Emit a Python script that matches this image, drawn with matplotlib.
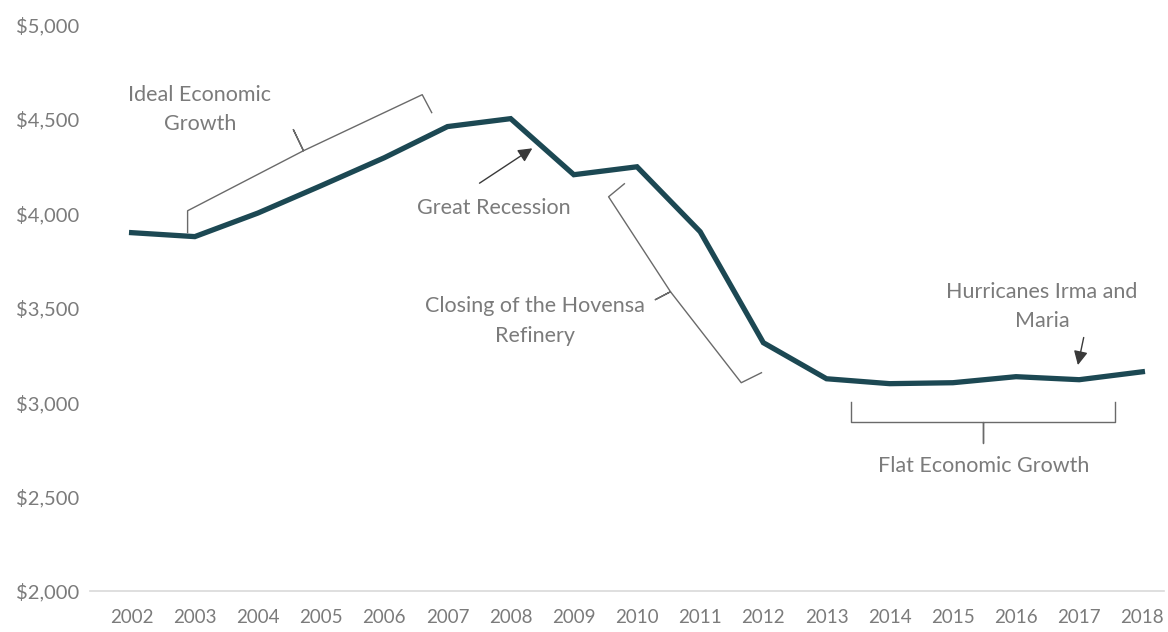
import matplotlib.pyplot as plt
from matplotlib.ticker import FuncFormatter

plt.rcParams['font.family'] = ['Lato', 'DejaVu Sans']

years = list(range(2002, 2019))
income = [3898, 3877, 4002, 4147, 4295, 4460, 4502, 4205, 4247,
          3903, 3315, 3124, 3098, 3103, 3135, 3119, 3161]
y_ticks = [2000, 2500, 3000, 3500, 4000, 4500, 5000]

line_color = '#1c4853'
text_color = '#7b7b7b'
bracket_color = '#6a6a6a'

fig = plt.figure(figsize=(11.68, 6.32), dpi=100)
ax = fig.add_axes([0.077, 0.065, 0.920, 0.896])

ax.plot(years, income, color=line_color, linewidth=3.8, solid_joinstyle='miter')

ax.set_xlim(2001.34, 2018.35)
ax.set_ylim(2000, 5000)
ax.set_xticks(years)
ax.set_yticks(y_ticks)
ax.yaxis.set_major_formatter(FuncFormatter(lambda v, p: f'${v:,.0f}'))
ax.tick_params(length=0, colors=text_color)
ax.tick_params(axis='y', pad=8, labelsize=14.5)
ax.tick_params(axis='x', pad=13, labelsize=13.5)
for side in ['top', 'right', 'left']:
    ax.spines[side].set_visible(False)
ax.spines['bottom'].set_color('#d9d9d9')
ax.spines['bottom'].set_linewidth(1.2)

# curly brackets
br = dict(color=bracket_color, linewidth=1.0)
ax.plot([2002.886, 2002.886, 2004.72, 2004.56, 2004.72, 2006.60, 2006.75],
        [3898, 4014, 4332, 4444, 4332, 4629, 4534], **br)
ax.plot([2009.80, 2009.55, 2010.53, 2010.29, 2010.53, 2011.65, 2011.97],
        [4157, 4088, 3585, 3543, 3585, 3103, 3156], **br)
ax.plot([2013.38, 2013.38, 2015.48, 2015.48, 2015.48, 2017.57, 2017.57],
        [3002, 2896, 2896, 2785, 2896, 2896, 3002], **br)

# arrows
arrow = dict(arrowstyle='-|>', color='#3a3a3a', lw=1.0, mutation_scale=21)
ax.annotate('', xy=(2008.38, 4353), xytext=(2007.47, 4152), arrowprops=arrow)
ax.annotate('', xy=(2016.97, 3182), xytext=(2017.08, 3357), arrowprops=arrow)

txt = dict(color=text_color, fontsize=15.5, ha='center', va='center', linespacing=1.6)
ax.text(2003.08, 4550, 'Ideal Economic\nGrowth', **txt)
ax.text(2007.74, 4030, 'Great Recession', **txt)
ax.text(2008.39, 3431, 'Closing of the Hovensa\nRefinery', **txt)
ax.text(2016.41, 3506, 'Hurricanes Irma and\nMaria', **txt)
ax.text(2015.48, 2663, 'Flat Economic Growth', **txt)

fig.savefig('out.png', dpi=100)
